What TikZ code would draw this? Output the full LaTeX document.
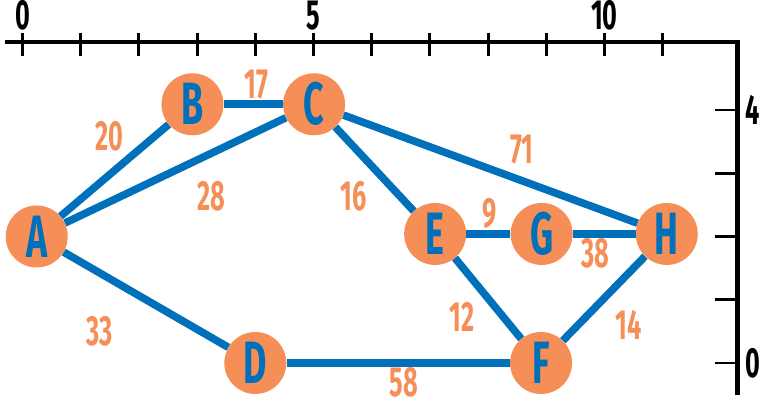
\documentclass[tikz,border=0pt]{standalone}
\usepackage{fontspec}
\usepackage{tikz}
\newfontfamily\condfont[FakeStretch=0.6]{Fira Sans}
\definecolor{nodeorange}{HTML}{F68F57}
\definecolor{edgeblue}{HTML}{0070BA}

\begin{document}
\begin{tikzpicture}[x=1.746cm, y=1.8975cm,
		node_style/.style={circle,fill=nodeorange,text=edgeblue,minimum size=1.86cm,inner sep=0pt,
			font=\condfont\bfseries\fontsize{51}{51}\selectfont},
		edge_style/.style={draw=edgeblue,line width=6.5pt},
		weight_style/.style={text=nodeorange,inner sep=0pt,font=\condfont\bfseries\fontsize{36}{36}\selectfont},
		axis_style/.style={draw=black,line width=4pt},
		tick_style/.style={draw=black,line width=2.5pt},
		axislabel_style/.style={text=black,inner sep=0pt,font=\condfont\bfseries\fontsize{36}{36}\selectfont}]
		
		\useasboundingbox (-0.387,-0.648) rectangle (13.067,5.739);
		
		% axes
		\draw[axis_style] (-0.3,5.075) -- (12.28,5.075) -- (12.28,-0.5);
		\foreach \x in {0,...,11}
			\draw[tick_style] (\x,5.22) -- (\x,4.85);
		\foreach \y in {0,...,4}
			\draw[tick_style] (11.9,\y) -- (12.28,\y);
		\foreach \x in {0,5,10}
			\node[axislabel_style] (xl\x) at (\x,5.49) {\x};
		\node[axislabel_style] (yl4) at (12.55,4) {4};
		\node[axislabel_style] (yl0) at (12.55,0) {0};
		
		% nodes
		\node[node_style] (A) at (0.244,2.0)  {A};
		\node[node_style] (B) at (2.92,4.09)  {B};
		\node[node_style] (C) at (5.01,4.09)  {C};
		\node[node_style] (D) at (4.0,0)      {D};
		\node[node_style] (E) at (7.09,2.04)  {E};
		\node[node_style] (G) at (8.92,2.04)  {G};
		\node[node_style] (H) at (11.07,2.04) {H};
		\node[node_style] (F) at (8.91,0)     {F};
		
		% edges
		\draw[edge_style]  (A) -- (B);
		\draw[edge_style]  (A) -- (C);
		\draw[edge_style]  (A) -- (D);
		\draw[edge_style]  (B) -- (C);
		\draw[edge_style]  (C) -- (E);
		\draw[edge_style]  (C) -- (H);
		\draw[edge_style]  (D) -- (F);
		\draw[edge_style]  (E) -- (G);
		\draw[edge_style]  (E) -- (F);
		\draw[edge_style]  (G) -- (H);
		\draw[edge_style]  (F) -- (H);
		
		% weights
		\node[weight_style] (wAB) at (1.486,3.578) {20};
		\node[weight_style] (wAC) at (3.251,2.629) {28};
		\node[weight_style] (wAD) at (1.320,0.495) {33};
		\node[weight_style] (wBC) at (4.024,4.395) {17};
		\node[weight_style] (wCE) at (5.684,2.629) {16};
		\node[weight_style] (wCH) at (8.577,3.368) {71};
		\node[weight_style] (wDF) at (6.555,-0.30) {58};
		\node[weight_style] (wEG) at (8.021,2.367) {9};
		\node[weight_style] (wGH) at (9.837,1.734) {38};
		\node[weight_style] (wEF) at (7.546,0.732) {12};
		\node[weight_style] (wFH) at (10.409,0.601) {14};
		
\end{tikzpicture}
\end{document}
